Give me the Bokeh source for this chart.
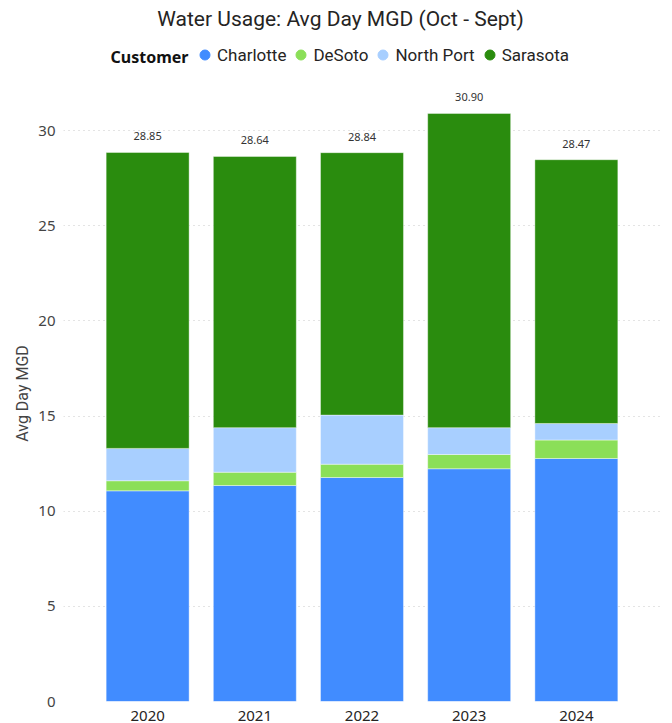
from bokeh.plotting import figure
from bokeh.layouts import column
from bokeh.core.properties import value
from bokeh.models import (ColumnDataSource, FactorRange, Range1d, Legend, LegendItem,
                          FixedTicker, LabelSet, Label)
from bokeh.embed import file_html
from bokeh.resources import INLINE

years = ["2020", "2021", "2022", "2023", "2024"]
customers = ["Charlotte", "DeSoto", "North Port", "Sarasota"]
charlotte = [11.07, 11.35, 11.77, 12.23, 12.77]
desoto = [0.53, 0.70, 0.70, 0.75, 0.97]
north_port = [1.70, 2.34, 2.58, 1.41, 0.87]
sarasota = [15.55, 14.25, 13.79, 16.51, 13.86]
totals = [28.85, 28.64, 28.84, 30.90, 28.47]
y_ticks = [0, 5, 10, 15, 20, 25, 30]
colors = ["#418CFF", "#8BDF58", "#A8CFFF", "#2A8C0E"]
title_text = "Water Usage: Avg Day MGD (Oct - Sept)"
legend_title = "Customer"

source = ColumnDataSource(dict(year=years, Charlotte=charlotte, DeSoto=desoto,
                               **{"North Port": north_port}, Sarasota=sarasota,
                               total=totals, total_lbl=["%.2f" % t for t in totals]))

# ---- header: title + legend (frame is aligned with the chart frame, left at 63px) ----
head = figure(width=672, height=85, x_range=Range1d(0, 1), y_range=Range1d(0, 1),
              x_axis_type=None, y_axis_type=None, output_backend="svg",
              toolbar_location=None, min_border=0, outline_line_color=None)
head.grid.visible = False
head.add_layout(Label(x=277, y=67, x_units="screen", y_units="screen", text=title_text,
                      text_align="center", text_baseline="middle", text_font="Roboto",
                      text_font_size="21px", text_color="#252423"))
head.add_layout(Label(x=47, y=29, x_units="screen", y_units="screen", text=legend_title,
                      text_align="left", text_baseline="middle", text_font="Noto Sans",
                      text_font_style="bold", text_font_size="16px", text_color="#111111"))
items = []
for name, c in zip(customers, colors):
    r = head.scatter(x=[float("nan")], y=[float("nan")], marker="circle", size=10, color=c)
    items.append(LegendItem(label=name, renderers=[r]))
legend = Legend(items=items, orientation="horizontal",
                label_text_font="Roboto", label_text_font_size="17px",
                label_text_color="#252423", glyph_width=25, glyph_height=25,
                label_standoff=-3, spacing=2, padding=0, margin=0,
                border_line_color=None, background_fill_alpha=0,
                location=(129, 18))
head.add_layout(legend, "center")

# ---- chart ----
p = figure(width=672, height=638, x_range=FactorRange(*years, range_padding=0.114),
           y_range=Range1d(0, 32.37), output_backend="svg", toolbar_location=None,
           min_border_left=63, min_border_right=12, min_border_top=0, min_border_bottom=0,
           outline_line_color=None)

p.vbar_stack(customers, x="year", width=0.774, source=source, color=colors,
             line_color="white", line_alpha=0.4, line_width=1)

labels = LabelSet(x="year", y="total", text="total_lbl", source=source,
                  text_align="center", text_baseline="middle", y_offset=16,
                  text_font=value("Noto Sans"), text_font_size=value("11px"),
                  text_color="#333333")
p.add_layout(labels)

p.yaxis.ticker = FixedTicker(ticks=y_ticks)
p.yaxis.axis_label = "Avg Day MGD"
p.yaxis.axis_label_text_font = "Roboto"
p.yaxis.axis_label_text_font_size = "16px"
p.yaxis.axis_label_text_font_style = "normal"
p.yaxis.axis_label_text_color = "#444444"
p.yaxis.axis_label_standoff = 3
p.yaxis.major_label_text_font = "Noto Sans"
p.yaxis.major_label_text_font_size = "15px"
p.yaxis.major_label_text_color = "#444444"
p.yaxis.major_label_standoff = 8
p.yaxis.axis_line_color = None
p.yaxis.major_tick_line_color = None
p.yaxis.minor_tick_line_color = None
p.yaxis.major_tick_out = 0

p.xaxis.major_label_text_font = "Noto Sans"
p.xaxis.major_label_text_font_size = "15px"
p.xaxis.major_label_text_color = "#252423"
p.xaxis.major_label_standoff = 9
p.xaxis.axis_line_color = None
p.xaxis.major_tick_line_color = None
p.xaxis.major_tick_out = 0
p.xaxis.major_tick_in = 0

p.xgrid.grid_line_color = None
p.ygrid.grid_line_color = "#C8C8C8"
p.ygrid.grid_line_dash = "1 4"
p.ygrid.grid_line_width = 1

layout = column(head, p, spacing=0)
open("out.html", "w").write(file_html(layout, INLINE))
